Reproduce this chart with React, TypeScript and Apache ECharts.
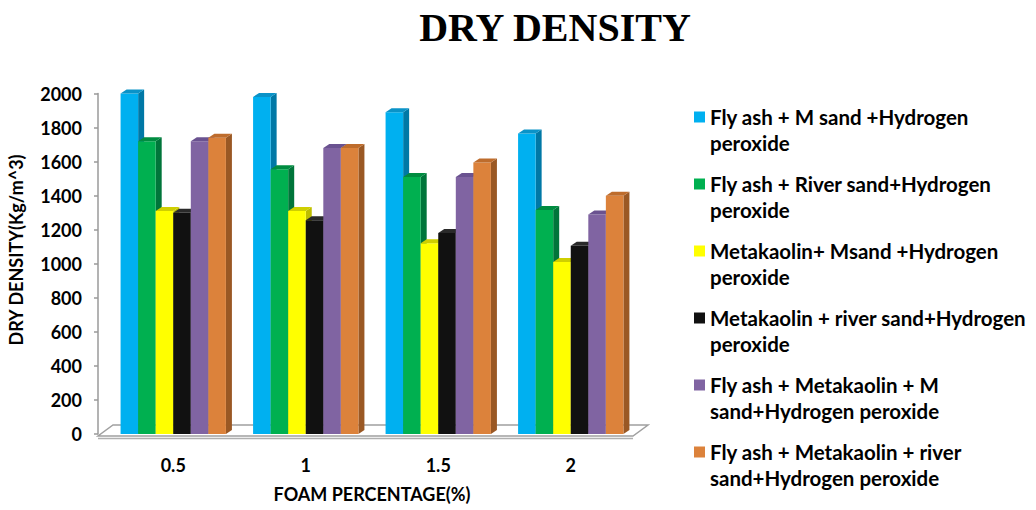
import React, { useEffect, useRef } from "react";
import * as echarts from "echarts";

// Foam percentage categories
const categories: string[] = ["0.5", "1", "1.5", "2"];

// Dry density (kg/m^3) per mix
const flyAshMSand: number[] = [2000, 1980, 1890, 1765];
const flyAshRiverSand: number[] = [1720, 1555, 1510, 1315];
const metakaolinMSand: number[] = [1310, 1310, 1120, 1010];
const metakaolinRiverSand: number[] = [1300, 1255, 1180, 1105];
const flyAshMetakaolinMSand: number[] = [1720, 1680, 1510, 1290];
const flyAshMetakaolinRiverSand: number[] = [1740, 1680, 1595, 1400];

const seriesNames: string[] = [
  "Fly ash + M sand +Hydrogen\nperoxide",
  "Fly ash + River sand+Hydrogen\nperoxide",
  "Metakaolin+ Msand +Hydrogen\nperoxide",
  "Metakaolin + river sand+Hydrogen\nperoxide",
  "Fly ash + Metakaolin + M\nsand+Hydrogen peroxide",
  "Fly ash + Metakaolin + river\nsand+Hydrogen peroxide",
];

const seriesValues: number[][] = [
  flyAshMSand,
  flyAshRiverSand,
  metakaolinMSand,
  metakaolinRiverSand,
  flyAshMetakaolinMSand,
  flyAshMetakaolinRiverSand,
];

// front / side / top face colours of each 3D column
const palette = [
  { front: "#00B0F0", side: "#0078A6", top: "#0A93C8" },
  { front: "#00B050", side: "#00753A", top: "#008C40" },
  { front: "#FFFF00", side: "#BDBD00", top: "#CFCF00" },
  { front: "#111111", side: "#000000", top: "#2A2A2A" },
  { front: "#8064A2", side: "#5B4676", top: "#6A5290" },
  { front: "#DC823B", side: "#9A5824", top: "#BE6C2C" },
];

const FONT = "Lato";
const DX = 6;
const DY = 4;
const GROUP_FRACTION = 0.795;

function makeRenderItem(seriesIndex: number) {
  return (params: any, api: any) => {
    const cat = api.value(0);
    const val = api.value(1);
    const top = api.coord([cat, val]);
    const base = api.coord([cat, 0]);
    const band = api.size([1, 0])[0];
    const groupW = band * GROUP_FRACTION;
    const bw = groupW / seriesValues.length;
    const x0 = top[0] - groupW / 2 + seriesIndex * bw;
    const yT = top[1];
    const yB = base[1];
    const c = palette[seriesIndex];
    return {
      type: "group",
      children: [
        {
          type: "polygon",
          shape: {
            points: [
              [x0 + bw, yT],
              [x0 + bw + DX, yT - DY],
              [x0 + bw + DX, yB - DY],
              [x0 + bw, yB],
            ],
          },
          style: { fill: c.side },
        },
        {
          type: "rect",
          shape: { x: x0, y: yT, width: bw, height: yB - yT },
          style: { fill: c.front },
        },
        {
          type: "polygon",
          shape: {
            points: [
              [x0, yT],
              [x0 + DX, yT - DY],
              [x0 + bw + DX, yT - DY],
              [x0 + bw, yT],
            ],
          },
          style: { fill: c.top },
        },
      ],
    };
  };
}

export default function App() {
  const ref = useRef<HTMLDivElement>(null);

  useEffect(() => {
    if (!ref.current) return;
    const chart = echarts.init(ref.current, undefined, { renderer: "svg" });

    const series = seriesValues.map((vals, i) => ({
      type: "custom",
      name: seriesNames[i],
      renderItem: makeRenderItem(i),
      itemStyle: { color: palette[i].front },
      encode: { x: 0, y: 1 },
      data: vals.map((v, j) => [j, v]),
      z: 3,
    }));

    const labelStyle = {
      fontFamily: FONT,
      fontWeight: "bold",
      fontSize: 18,
      color: "#000",
    };

    chart.setOption({
      animation: false,
      backgroundColor: "#ffffff",
      title: {
        text: "DRY DENSITY",
        left: 550,
        top: 2,
        textAlign: "center",
        textStyle: {
          fontFamily: "Liberation Serif",
          fontWeight: "bold",
          fontSize: 40,
          color: "#000",
        },
      },
      grid: { left: 107, right: 399, top: 93.5, bottom: 76 },
      xAxis: {
        type: "category",
        data: categories,
        axisLine: { show: false },
        axisTick: { show: false },
        axisLabel: { margin: 22, ...labelStyle },
        name: "FOAM PERCENTAGE(%)",
        nameLocation: "middle",
        nameGap: 51,
        nameTextStyle: labelStyle,
      },
      yAxis: {
        type: "value",
        min: 0,
        max: 2000,
        interval: 200,
        offset: 9,
        axisLine: { show: true, lineStyle: { color: "#9a9a9a", width: 1.5 } },
        axisTick: { show: true, length: 4, lineStyle: { color: "#9a9a9a", width: 1.5 } },
        splitLine: { show: false },
        axisLabel: {
          margin: 16,
          formatter: (v: number) => String(v),
          ...labelStyle,
        },
      },
      legend: {
        orient: "vertical",
        left: 694,
        top: 104,
        padding: 0,
        itemWidth: 11,
        itemHeight: 52,
        itemGap: 15,
        icon: "path://M0,0M0,7.5L11,7.5L11,18.5L0,18.5ZM11,52",
        textStyle: {
          fontFamily: FONT,
          fontWeight: "bold",
          fontSize: 20.5,
          lineHeight: 26,
          color: "#000",
        },
        data: seriesNames,
      },
      graphic: [
        {
          type: "polygon",
          z: 0,
          shape: {
            points: [
              [98, 436],
              [633, 436],
              [648, 425],
              [113, 425],
            ],
          },
          style: { fill: "#ffffff", stroke: "#a0a0a0", lineWidth: 1.5 },
        },
        {
          type: "line",
          z: 0,
          shape: { x1: 98, y1: 438.5, x2: 633, y2: 438.5 },
          style: { stroke: "#b0b0b0", lineWidth: 1.5 },
        },
        {
          type: "text",
          x: 16,
          y: 250,
          rotation: Math.PI / 2,
          style: {
            text: "DRY DENSITY(Kg/m^3)",
            fontFamily: FONT,
            fontWeight: "bold",
            fontSize: 18,
            fill: "#000",
            align: "center",
            verticalAlign: "middle",
          },
        },
      ],
      series,
    });

    return () => chart.dispose();
  }, []);

  return (
    <div
      ref={ref}
      style={{ position: "fixed", left: 0, top: 0, width: 1036, height: 510 }}
    />
  );
}
